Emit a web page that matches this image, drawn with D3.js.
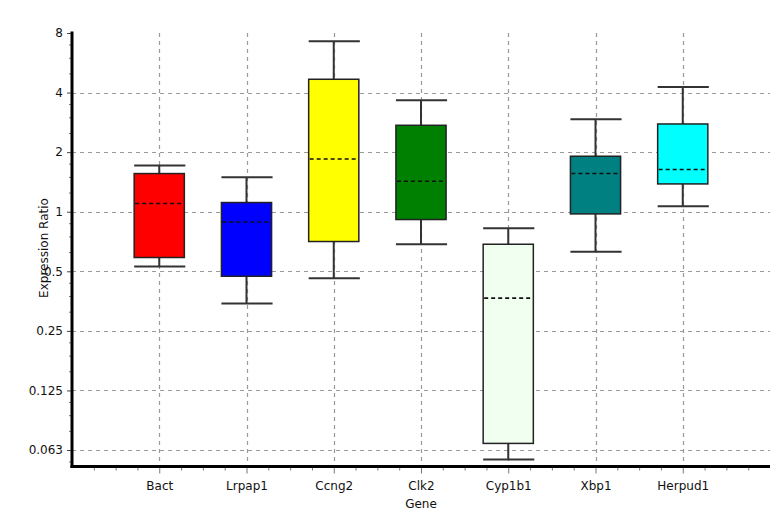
<!DOCTYPE html>
<html>
<head>
<meta charset="utf-8">
<script src="https://cdn.jsdelivr.net/npm/d3@7"></script>
<style>
  html, body { margin: 0; padding: 0; background: #fff; }
  svg { display: block; }
  text { font-family: "DejaVu Sans", sans-serif; font-size: 12px; fill: #111; }
</style>
</head>
<body>
<svg id="chart" width="779" height="524"></svg>
<script>
// Relative expression ratios per gene (box: q1–q3, line: median, whiskers: min–max)
const genes       = ["Bact", "Lrpap1", "Ccng2", "Clk2", "Cyp1b1", "Xbp1", "Herpud1"];
const whiskerLow  = [0.529, 0.344, 0.461, 0.685, 0.056, 0.627, 1.066];
const quartile1   = [0.587, 0.472, 0.707, 0.913, 0.0675, 0.975, 1.382];
const medians     = [1.100, 0.888, 1.848, 1.426, 0.366, 1.559, 1.634];
const quartile3   = [1.559, 1.113, 4.670, 2.734, 0.685, 1.907, 2.776];
const whiskerHigh = [1.711, 1.494, 7.260, 3.660, 0.825, 2.932, 4.270];
const boxColors   = ["#ff0000", "#0000ff", "#ffff00", "#008000", "#f0fff0", "#008080", "#00ffff"];

// Y axis ticks (log base 2)
const yTickValues = [8, 4, 2, 1, 0.5, 0.25, 0.125, 0.0625];
const yTickLabels = ["8", "4", "2", "1", "0.5", "0.25", "0.125", "0.063"];
const yMin = 0.0516, yMax = 8;

const xTitle = "Gene";
const yTitle = "Expression Ratio";

const plotLeft = 72, plotRight = 770, plotTop = 33, plotBottom = 466.5;
const boxWidth = 0.575; // in category units

const svg = d3.select("#chart");

const x = d3.scaleLinear().domain([0, genes.length + 1]).range([plotLeft, plotRight]);
const y = d3.scaleLog().base(2).domain([yMin, yMax]).range([plotBottom, plotTop]);

// minor y ticks: three linear subdivisions inside each octave
const yMinor = [];
for (let e = -5; e < 3; e++) {
  const b = Math.pow(2, e);
  for (let k = 1; k <= 3; k++) {
    const v = b * (1 + k / 4);
    if (v > yMin && v < yMax) yMinor.push(v);
  }
}
// minor x ticks every quarter category
const xMinor = d3.range(1, 4 * (genes.length + 1)).map(i => i / 4).filter(v => v % 1 !== 0);
const xMajor = d3.range(1, genes.length + 1);

// grid
const grid = svg.append("g").attr("stroke", "#9a9a9a").attr("stroke-width", 1.2)
  .attr("stroke-dasharray", "4,4").attr("fill", "none");
grid.selectAll("line.h").data(yTickValues.filter(v => v < yMax)).join("line")
  .attr("class", "h")
  .attr("x1", plotLeft).attr("x2", plotRight)
  .attr("y1", d => Math.round(y(d)) + 0.5).attr("y2", d => Math.round(y(d)) + 0.5);
grid.selectAll("line.v").data(xMajor).join("line")
  .attr("class", "v")
  .attr("x1", d => Math.round(x(d)) + 0.5).attr("x2", d => Math.round(x(d)) + 0.5)
  .attr("y1", plotTop).attr("y2", plotBottom);

// boxes
const data = genes.map((g, i) => ({
  i: i + 1, lo: whiskerLow[i], q1: quartile1[i], med: medians[i],
  q3: quartile3[i], hi: whiskerHigh[i], color: boxColors[i]
}));
const half = (x(boxWidth) - x(0)) / 2;
const boxes = svg.append("g").selectAll("g").data(data).join("g");

boxes.append("line") // upper whisker
  .attr("x1", d => x(d.i)).attr("x2", d => x(d.i))
  .attr("y1", d => y(d.hi)).attr("y2", d => y(d.q3))
  .attr("stroke", "#333").attr("stroke-width", 2);
boxes.append("line") // lower whisker
  .attr("x1", d => x(d.i)).attr("x2", d => x(d.i))
  .attr("y1", d => y(d.q1)).attr("y2", d => y(d.lo))
  .attr("stroke", "#333").attr("stroke-width", 2);
boxes.append("line") // top cap
  .attr("x1", d => x(d.i) - half).attr("x2", d => x(d.i) + half + 1)
  .attr("y1", d => y(d.hi)).attr("y2", d => y(d.hi))
  .attr("stroke", "#333").attr("stroke-width", 2);
boxes.append("line") // bottom cap
  .attr("x1", d => x(d.i) - half).attr("x2", d => x(d.i) + half + 1)
  .attr("y1", d => y(d.lo)).attr("y2", d => y(d.lo))
  .attr("stroke", "#333").attr("stroke-width", 2);
boxes.append("rect")
  .attr("x", d => x(d.i) - half).attr("width", half * 2)
  .attr("y", d => y(d.q3)).attr("height", d => y(d.q1) - y(d.q3))
  .attr("fill", d => d.color).attr("stroke", "#222").attr("stroke-width", 1.5);
boxes.append("line") // median
  .attr("x1", d => x(d.i) - half + 1).attr("x2", d => x(d.i) + half - 1)
  .attr("y1", d => y(d.med)).attr("y2", d => y(d.med))
  .attr("stroke", "#111").attr("stroke-width", 1.6).attr("stroke-dasharray", "4,3");

// y axis
const yAxisMinor = svg.append("g").attr("transform", `translate(${plotLeft},0)`)
  .call(d3.axisLeft(y).tickValues(yMinor).tickSize(3).tickFormat(""));
yAxisMinor.select(".domain").remove();
yAxisMinor.selectAll("line").attr("stroke", "#777");

const yAxis = svg.append("g").attr("transform", `translate(${plotLeft},0)`)
  .call(d3.axisLeft(y).tickValues(yTickValues).tickSize(5).tickPadding(4)
    .tickFormat((d, i) => yTickLabels[i]));
yAxis.select(".domain").remove();
yAxis.selectAll("line").attr("stroke", "#444");
yAxis.selectAll("text").attr("font-family", null).attr("font-size", null).attr("fill", null);

// x axis
const xAxisMinor = svg.append("g").attr("transform", `translate(0,${plotBottom})`)
  .call(d3.axisBottom(x).tickValues(xMinor).tickSize(4).tickFormat(""));
xAxisMinor.select(".domain").remove();
xAxisMinor.selectAll("line").attr("stroke", "#777");

const xAxis = svg.append("g").attr("transform", `translate(0,${plotBottom})`)
  .call(d3.axisBottom(x).tickValues(xMajor).tickSize(7).tickPadding(8)
    .tickFormat((d, i) => genes[i]));
xAxis.select(".domain").remove();
xAxis.selectAll("line").attr("stroke", "#777");
xAxis.selectAll("text").attr("font-family", null).attr("font-size", null).attr("fill", null);

// thick axis lines
svg.append("line").attr("x1", plotLeft).attr("x2", plotLeft)
  .attr("y1", plotTop - 1.5).attr("y2", plotBottom + 1.5)
  .attr("stroke", "#000").attr("stroke-width", 3);
svg.append("line").attr("x1", plotLeft - 1.5).attr("x2", plotRight)
  .attr("y1", plotBottom).attr("y2", plotBottom)
  .attr("stroke", "#000").attr("stroke-width", 3);

// titles
svg.append("text").attr("x", (plotLeft + plotRight) / 2).attr("y", 508)
  .attr("text-anchor", "middle").text(xTitle);
svg.append("text").attr("transform", `translate(47.5,248) rotate(-90)`)
  .attr("text-anchor", "middle").text(yTitle);
</script>
</body>
</html>
